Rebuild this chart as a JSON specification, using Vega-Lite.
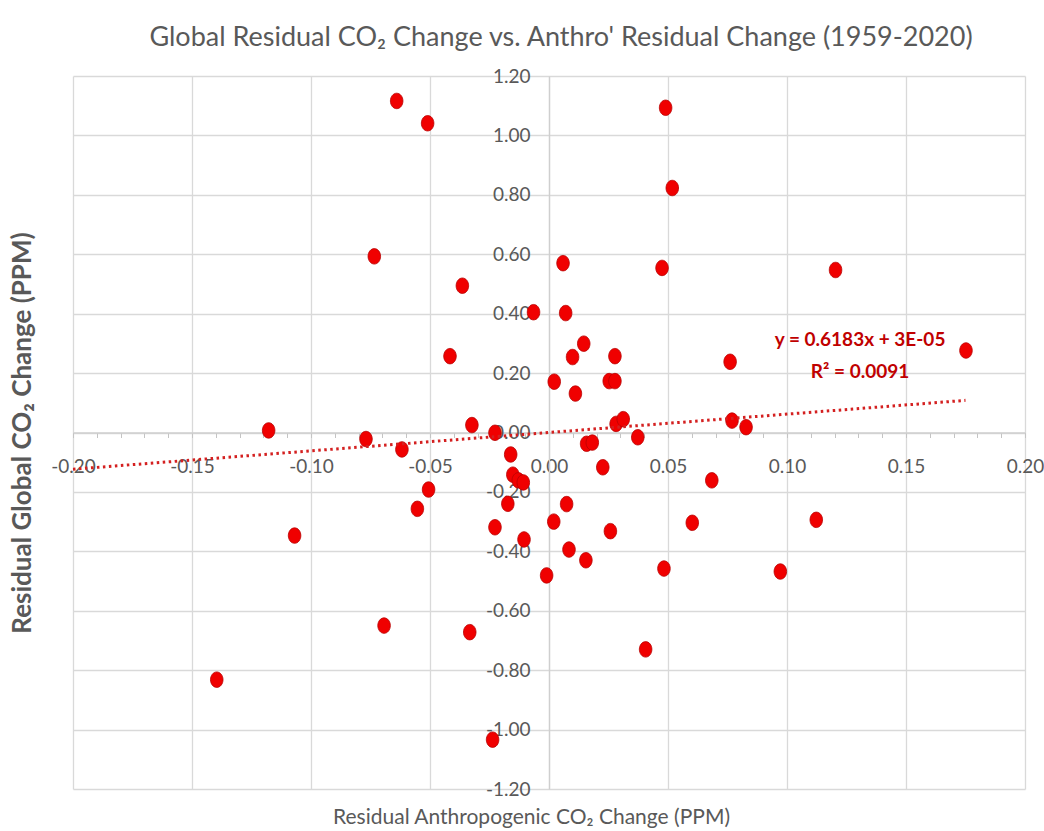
{
  "$schema": "https://vega.github.io/schema/vega-lite/v6.json",
  "width": 952,
  "height": 713,
  "autosize": {"type": "none"},
  "padding": {"left": 73, "top": 76, "right": 19, "bottom": 42},
  "background": "white",
  "title": {
    "text": "Global Residual CO₂ Change vs. Anthro' Residual Change (1959-2020)",
    "font": "Lato",
    "fontSize": 27,
    "fontWeight": "normal",
    "color": "#595959",
    "anchor": "middle",
    "frame": "group",
    "baseline": "alphabetic",
    "offset": -6,
    "dx": 12
  },
  "config": {
    "view": {"stroke": null},
    "font": "Lato"
  },
  "datasets": {
    "pts": [
      {"anthro": -0.0640, "global": 1.116},
      {"anthro": -0.0510, "global": 1.041},
      {"anthro": 0.0490, "global": 1.093},
      {"anthro": 0.0518, "global": 0.823},
      {"anthro": -0.0734, "global": 0.593},
      {"anthro": -0.0364, "global": 0.494},
      {"anthro": 0.0059, "global": 0.570},
      {"anthro": 0.0475, "global": 0.554},
      {"anthro": 0.1204, "global": 0.547},
      {"anthro": -0.0065, "global": 0.405},
      {"anthro": 0.0070, "global": 0.402},
      {"anthro": -0.0416, "global": 0.257},
      {"anthro": 0.0146, "global": 0.299},
      {"anthro": 0.0099, "global": 0.254},
      {"anthro": 0.0277, "global": 0.257},
      {"anthro": 0.0761, "global": 0.238},
      {"anthro": 0.1752, "global": 0.276},
      {"anthro": 0.0022, "global": 0.171},
      {"anthro": 0.0253, "global": 0.173},
      {"anthro": 0.0277, "global": 0.173},
      {"anthro": 0.0111, "global": 0.131},
      {"anthro": 0.0282, "global": 0.029},
      {"anthro": 0.0312, "global": 0.045},
      {"anthro": 0.0769, "global": 0.040},
      {"anthro": 0.0828, "global": 0.018},
      {"anthro": 0.0373, "global": -0.016},
      {"anthro": 0.0158, "global": -0.038},
      {"anthro": 0.0182, "global": -0.034},
      {"anthro": -0.1178, "global": 0.007},
      {"anthro": -0.0769, "global": -0.022},
      {"anthro": -0.0618, "global": -0.057},
      {"anthro": -0.0324, "global": 0.025},
      {"anthro": -0.0227, "global": -0.001},
      {"anthro": -0.0161, "global": -0.074},
      {"anthro": -0.0152, "global": -0.142},
      {"anthro": -0.0129, "global": -0.161},
      {"anthro": -0.0108, "global": -0.168},
      {"anthro": -0.0506, "global": -0.192},
      {"anthro": -0.0173, "global": -0.240},
      {"anthro": -0.0553, "global": -0.257},
      {"anthro": -0.0227, "global": -0.319},
      {"anthro": -0.1069, "global": -0.347},
      {"anthro": -0.0105, "global": -0.360},
      {"anthro": 0.0020, "global": -0.300},
      {"anthro": -0.0010, "global": -0.481},
      {"anthro": -0.0693, "global": -0.650},
      {"anthro": -0.0333, "global": -0.672},
      {"anthro": -0.1396, "global": -0.832},
      {"anthro": -0.0237, "global": -1.034},
      {"anthro": 0.0226, "global": -0.117},
      {"anthro": 0.0684, "global": -0.161},
      {"anthro": 0.0074, "global": -0.241},
      {"anthro": 0.0602, "global": -0.304},
      {"anthro": 0.1123, "global": -0.294},
      {"anthro": 0.0258, "global": -0.332},
      {"anthro": 0.0084, "global": -0.394},
      {"anthro": 0.0155, "global": -0.430},
      {"anthro": 0.0483, "global": -0.458},
      {"anthro": 0.0972, "global": -0.468},
      {"anthro": 0.0406, "global": -0.730}
    ],
    "trend": [
      {"anthro": -0.2, "global": -0.1236},
      {"anthro": 0.175, "global": 0.1082}
    ],
    "eqn": [
      {"anthro": 0.1307, "global": 0.310, "label": "y = 0.6183x + 3E-05"},
      {"anthro": 0.1307, "global": 0.205, "label": "R² = 0.0091"}
    ]
  },
  "resolve": {"axis": {"x": "independent", "y": "independent"}},
  "layer": [
    {
      "data": {"name": "pts"},
      "mark": {
        "type": "point",
        "shape": "M0,-1 A0.81,1 0 1,1 0,1 A0.81,1 0 1,1 0,-1 Z",
        "filled": true,
        "size": 240,
        "fill": "#f00000",
        "stroke": "#b80000",
        "strokeWidth": 0.8,
        "opacity": 1
      },
      "encoding": {
        "x": {
          "field": "anthro", "type": "quantitative",
          "scale": {"domain": [-0.2, 0.2], "nice": false, "zero": false},
          "axis": {
            "values": [-0.2, -0.15, -0.1, -0.05, 0, 0.05, 0.1, 0.15, 0.2],
            "grid": true, "gridColor": "#d9d9d9", "gridWidth": 1.3,
            "labels": false, "ticks": false, "domain": false,
            "title": "Residual Anthropogenic CO₂ Change (PPM)",
            "titleFont": "Lato",
            "titleFontSize": 21, "titleFontWeight": "normal", "titleColor": "#595959",
            "titlePadding": 17, "titleX": 458
          }
        },
        "y": {
          "field": "global", "type": "quantitative",
          "scale": {"domain": [-1.2, 1.2], "nice": false, "zero": false},
          "axis": {
            "values": [-1.2, -1, -0.8, -0.6, -0.4, -0.2, 0, 0.2, 0.4, 0.6, 0.8, 1, 1.2],
            "grid": true, "gridColor": "#d9d9d9", "gridWidth": 1.3,
            "labels": false, "ticks": false, "domain": false,
            "title": "Residual Global CO₂ Change (PPM)",
            "titleFont": "Lato",
            "titleFontSize": 26, "titleFontWeight": "bold", "titleColor": "#595959",
            "titlePadding": 38
          }
        }
      }
    },
    {
      "data": {"name": "trend"},
      "mark": {"type": "line", "color": "#d42020", "strokeWidth": 3, "strokeDash": [2.5, 3.5]},
      "encoding": {
        "x": {
          "field": "anthro", "type": "quantitative",
          "scale": {"domain": [-0.2, 0.2], "nice": false, "zero": false},
          "axis": {
            "orient": "bottom", "offset": -356.5,
            "values": [-0.2, -0.19, -0.18, -0.17, -0.16, -0.15, -0.14, -0.13, -0.12, -0.11, -0.1, -0.09, -0.08, -0.07, -0.06, -0.05, -0.04, -0.03, -0.02, -0.01, 0, 0.01, 0.02, 0.03, 0.04, 0.05, 0.06, 0.07, 0.08, 0.09, 0.1, 0.11, 0.12, 0.13, 0.14, 0.15, 0.16, 0.17, 0.18, 0.19, 0.2],
            "grid": false, "domain": true, "domainColor": "#cfcfcf", "domainWidth": 1.3,
            "ticks": true, "tickSize": 5, "tickColor": "#c4c4c4", "tickWidth": 1,
            "labelExpr": "abs(round(datum.value*100)) % 5 == 0 ? replace(format(datum.value, '.2f'), '−', '-') : ''",
            "labelFont": "Lato",
            "labelFontSize": 19, "labelColor": "#595959",
            "labelBaseline": "middle", "labelPadding": 29,
            "labelOverlap": false, "labelBound": false, "labelFlush": false,
            "title": null
          }
        },
        "y": {
          "field": "global", "type": "quantitative",
          "scale": {"domain": [-1.2, 1.2], "nice": false, "zero": false},
          "axis": {
            "orient": "left", "offset": -476,
            "values": [-1.2, -1, -0.8, -0.6, -0.4, -0.2, 0, 0.2, 0.4, 0.6, 0.8, 1, 1.2],
            "grid": false, "domain": true, "domainColor": "#cfcfcf", "domainWidth": 1.3,
            "ticks": false,
            "labelExpr": "replace(format(datum.value, '.2f'), '−', '-')",
            "labelFont": "Lato",
            "labelFontSize": 19, "labelColor": "#595959",
            "labelPadding": 19,
            "labelOverlap": false, "labelBound": false, "labelFlush": false,
            "title": null
          }
        }
      }
    },
    {
      "data": {"name": "eqn"},
      "mark": {
        "type": "text", "font": "Lato",
        "fontSize": 19, "fontWeight": "bold", "color": "#c00000",
        "align": "center", "baseline": "middle"
      },
      "encoding": {
        "x": {"field": "anthro", "type": "quantitative", "scale": {"domain": [-0.2, 0.2], "nice": false, "zero": false}, "axis": null},
        "y": {"field": "global", "type": "quantitative", "scale": {"domain": [-1.2, 1.2], "nice": false, "zero": false}, "axis": null},
        "text": {"field": "label", "type": "nominal"}
      }
    }
  ]
}
